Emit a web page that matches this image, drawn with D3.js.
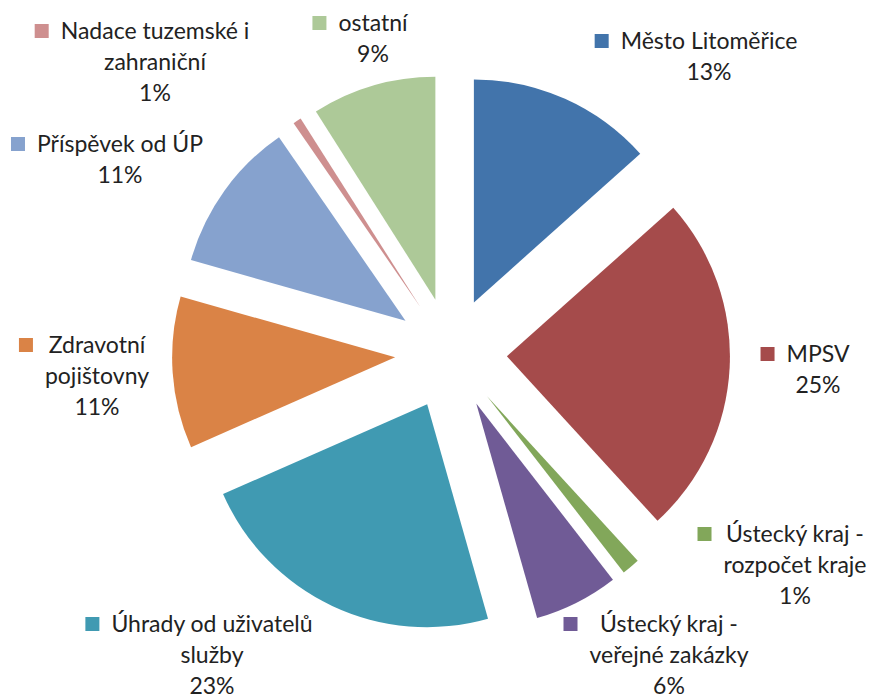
<!DOCTYPE html>
<html lang="cs">
<head>
<meta charset="utf-8">
<style>
  body { margin: 0; background: #fff; }
  svg { display: block; }
  text { font-family: Lato, "Open Sans", sans-serif; font-size: 23px; fill: #222; }
</style>
</head>
<body>
<div id="chart"></div>
<script src="https://d3js.org/d3.v7.min.js"></script>
<script>
// data, clockwise from 12 o'clock
var categories = ["Město Litoměřice", "MPSV", "Ústecký kraj - rozpočet kraje",
  "Ústecký kraj - veřejné zakázky", "Úhrady od uživatelů služby", "Zdravotní pojišťovny",
  "Příspěvek od ÚP", "Nadace tuzemské i zahraniční", "ostatní"];
var values = [13.4, 24.8, 1.3, 6.1, 22.8, 11.0, 11.0, 0.6, 9.0];
// wrapped label text as shown in the chart
var labelLines = [
  ["Město Litoměřice"],
  ["MPSV"],
  ["Ústecký kraj -", "rozpočet kraje"],
  ["Ústecký kraj -", "veřejné zakázky"],
  ["Úhrady od uživatelů", "služby"],
  ["Zdravotní", "pojištovny"],
  ["Příspěvek od ÚP"],
  ["Nadace tuzemské i", "zahraniční"],
  ["ostatní"]
];

var colors = ["#4274ab", "#a54b4b", "#82a75a", "#705b96", "#409ab2",
  "#da8346", "#86a2ce", "#ce8f8f", "#adc998"];
// label block placement: text centre x, first baseline y
var labelPos = [[709, 49], [818, 362], [795, 542], [669, 632], [212, 632],
  [97, 353], [120, 152], [155, 39], [373, 31]];

var W = 872, H = 698;
var cx = 451, cy = 353.5, R = 223, explode = 56, lineH = 31;

var svg = d3.select("#chart").append("svg")
  .attr("width", W).attr("height", H);

var pie = d3.pie().sort(null).value(function(d) { return d; });
var arcs = pie(values);
var arc = d3.arc().innerRadius(0).outerRadius(R);

var g = svg.append("g").attr("transform", "translate(" + cx + "," + cy + ")");

g.selectAll("path.slice")
  .data(arcs).enter()
  .append("path")
  .attr("class", "slice")
  .attr("fill", function(d, i) { return colors[i]; })
  .attr("transform", function(d) {
    var mid = (d.startAngle + d.endAngle) / 2;
    return "translate(" + (explode * Math.sin(mid)) + "," + (-explode * Math.cos(mid)) + ")";
  })
  .attr("d", arc);

// data labels
var labels = svg.selectAll("g.label")
  .data(arcs).enter()
  .append("g")
  .attr("class", "label");

labels.each(function(d, i) {
  var lg = d3.select(this);
  var lines = labelLines[i].concat([Math.round(d.data) + "%"]);
  var x = labelPos[i][0], y = labelPos[i][1];
  var maxW = 0;
  lines.forEach(function(t, k) {
    var tx = lg.append("text")
      .attr("x", x).attr("y", y + k * lineH)
      .attr("text-anchor", "middle")
      .text(t);
    maxW = Math.max(maxW, tx.node().getComputedTextLength());
  });
  lg.append("rect")
    .attr("x", x - maxW / 2 - 12 - 14)
    .attr("y", y - 15)
    .attr("width", 14).attr("height", 14)
    .attr("fill", colors[i]);
});
</script>
</body>
</html>
